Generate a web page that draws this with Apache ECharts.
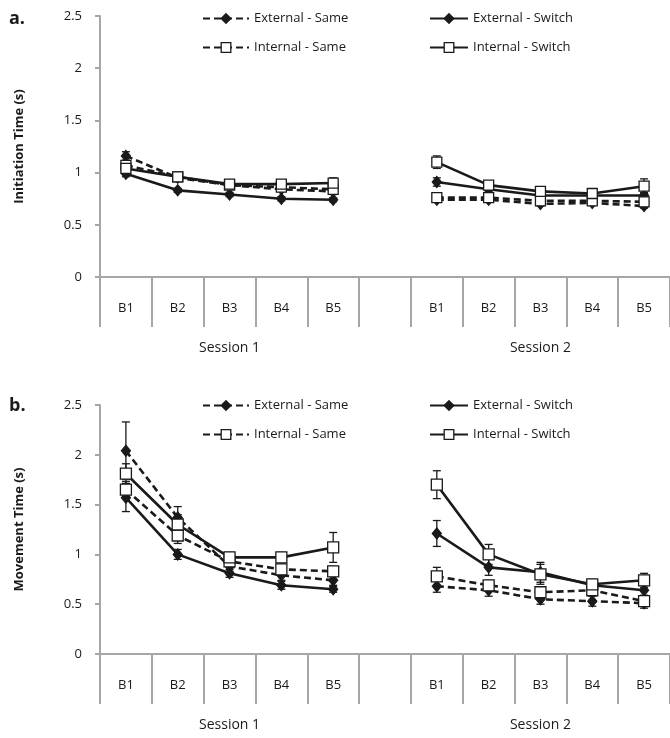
<!DOCTYPE html>
<html>
<head>
<meta charset="utf-8">
<script src="https://cdn.jsdelivr.net/npm/echarts@6/dist/echarts.min.js"></script>
<style>
html,body{margin:0;padding:0;background:#fff;}
#main{width:670px;height:738px;}
</style>
</head>
<body>
<div id="main"></div>
<script>
// categories (index 5 is the empty gap between the two sessions)
var blocks = ['B1','B2','B3','B4','B5','','B1','B2','B3','B4','B5'];
var sessions = ['','','Session 1','','','','','','Session 2','',''];
var yTicks = [0, 0.5, 1, 1.5, 2, 2.5];
var seriesNames = ['External - Same','External - Switch','Internal - Same','Internal - Switch'];

// a. initiation time (s)
var initExtSame   = [1.16,0.95,0.88,0.84,0.82,null,0.74,0.74,0.70,0.71,0.68];
var initExtSwitch = [0.99,0.83,0.79,0.75,0.74,null,0.91,0.84,0.78,0.78,0.78];
var initIntSame   = [1.07,0.96,0.88,0.86,0.84,null,0.76,0.76,0.73,0.73,0.72];
var initIntSwitch = [1.04,0.96,0.89,0.89,0.90,null,1.10,0.88,0.82,0.80,0.87];
var initExtSameErr   = [0.04,0.02,0.02,0.02,0.03,null,0.02,0.02,0.02,0.02,0.02];
var initExtSwitchErr = [0.03,0.02,0.02,0.02,0.02,null,0.04,0.02,0.02,0.02,0.03];
var initIntSameErr   = [0.04,0.03,0.03,0.03,0.04,null,0.03,0.02,0.02,0.02,0.03];
var initIntSwitchErr = [0.03,0.03,0.03,0.03,0.05,null,0.06,0.03,0.03,0.03,0.07];

// b. movement time (s)
var moveExtSame   = [2.04,1.37,0.88,0.79,0.74,null,0.68,0.64,0.55,0.53,0.51];
var moveExtSwitch = [1.57,1.00,0.81,0.69,0.65,null,1.21,0.87,0.82,0.69,0.64];
var moveIntSame   = [1.65,1.19,0.93,0.85,0.83,null,0.78,0.69,0.62,0.64,0.53];
var moveIntSwitch = [1.81,1.30,0.97,0.97,1.07,null,1.70,1.00,0.80,0.70,0.74];
var moveExtSameErr   = [0.29,0.11,0.05,0.05,0.05,null,0.06,0.06,0.05,0.05,0.05];
var moveExtSwitchErr = [0.14,0.05,0.04,0.04,0.03,null,0.13,0.08,0.10,0.04,0.05];
var moveIntSameErr   = [0.08,0.08,0.05,0.05,0.05,null,0.09,0.05,0.05,0.05,0.05];
var moveIntSwitchErr = [0.10,0.10,0.05,0.05,0.15,null,0.14,0.10,0.10,0.05,0.07];

var axisGray = '#a6a6a6';
var txtFont = 'Open Sans';

var chart = echarts.init(document.getElementById('main'));

// error bar with caps
function renderErr(params, api){
	var x = api.value(0);
	var lo = api.coord([x, api.value(1)]);
	var hi = api.coord([x, api.value(2)]);
	var w = 4;
	var st = {stroke:'#1a1a1a', lineWidth:1.3};
	return {type:'group', children:[
		{type:'line', shape:{x1:lo[0],y1:lo[1],x2:hi[0],y2:hi[1]}, style:st},
		{type:'line', shape:{x1:lo[0]-w,y1:lo[1],x2:lo[0]+w,y2:lo[1]}, style:st},
		{type:'line', shape:{x1:hi[0]-w,y1:hi[1],x2:hi[0]+w,y2:hi[1]}, style:st}
	]};
}

function errData(vals, errs){
	var out = [];
	for(var i=0;i<vals.length;i++){
		if(vals[i]==null) continue;
		out.push([i, vals[i]-errs[i], vals[i]+errs[i]]);
	}
	return out;
}

// style of the 4 conditions
var styles = [
	{dash:[7,4], symbol:'diamond', size:[9,11], fill:'#1a1a1a'},
	{dash:'solid', symbol:'diamond', size:[9,11], fill:'#1a1a1a'},
	{dash:[7,4], symbol:'rect', size:10, fill:'#ffffff'},
	{dash:'solid', symbol:'rect', size:10, fill:'#ffffff'}
];

function makeSeries(gi, vals, errs, sqSize){
	var out = [];
	for(var k=0;k<4;k++){
		out.push({
			type:'custom', name:seriesNames[k]+' err', xAxisIndex:gi*2, yAxisIndex:gi,
			renderItem:renderErr, data:errData(vals[k], errs[k]), z:1, silent:true
		});
	}
	for(var k=0;k<4;k++){
		var s = styles[k];
		out.push({
			type:'line', name:seriesNames[k], xAxisIndex:gi*2, yAxisIndex:gi,
			data:vals[k], connectNulls:false, z:3,
			symbol:s.symbol, symbolSize:(s.symbol=='rect'?sqSize:s.size), showAllSymbol:true,
			lineStyle:{color:'#1a1a1a', width:2.6, type:s.dash},
			itemStyle:{color:s.fill, borderColor:'#1a1a1a', borderWidth:1.3},
			emphasis:{disabled:true}, animation:false
		});
	}
	return out;
}

function xAxes(gi){
	return [{
		type:'category', gridIndex:gi, data:blocks, boundaryGap:true,
		axisLine:{show:true, lineStyle:{color:axisGray, width:2}},
		axisTick:{show:true, length:50, interval:0, lineStyle:{color:axisGray, width:2}},
		axisLabel:{interval:0, margin:25, fontSize:13, color:'#1a1a1a', fontFamily:txtFont}
	},{
		type:'category', gridIndex:gi, data:sessions, boundaryGap:true, position:'bottom',
		axisLine:{show:false}, axisTick:{show:false},
		axisLabel:{interval:0, margin:64, fontSize:14, color:'#1a1a1a', fontFamily:txtFont}
	}];
}

function yAxis(gi, name){
	return {
		type:'value', gridIndex:gi, min:yTicks[0], max:yTicks[yTicks.length-1], interval:0.5,
		splitLine:{show:false},
		axisLine:{show:true, lineStyle:{color:axisGray, width:2}},
		axisTick:{show:true, length:5, lineStyle:{color:axisGray, width:2}},
		axisLabel:{margin:18, fontSize:13, color:'#1a1a1a', fontFamily:txtFont},
		name:name, nameLocation:'middle', nameGap:74,
		nameTextStyle:{fontSize:13, fontWeight:'bold', color:'#1a1a1a', fontFamily:txtFont}
	};
}

function legends(top){
	var base = {
		orient:'vertical', itemHeight:12, itemGap:16, top:top,
		textStyle:{fontSize:13, color:'#1a1a1a', fontFamily:txtFont}, itemStyle:{borderWidth:1.3}
	};
	return [
		Object.assign({left:197, itemWidth:46, data:[seriesNames[0], seriesNames[2]]}, base),
		Object.assign({left:424, itemWidth:38, data:[seriesNames[1], seriesNames[3]]}, base)
	];
}

var series = [].concat(
	makeSeries(0, [initExtSame, initExtSwitch, initIntSame, initIntSwitch],
		[initExtSameErr, initExtSwitchErr, initIntSameErr, initIntSwitchErr], 10),
	makeSeries(1, [moveExtSame, moveExtSwitch, moveIntSame, moveIntSwitch],
		[moveExtSameErr, moveExtSwitchErr, moveIntSameErr, moveIntSwitchErr], 11)
);

var option = {
	animation:false,
	backgroundColor:'#ffffff',
	textStyle:{fontFamily:txtFont},
	grid:[
		{left:100, right:0, top:16, height:261},
		{left:100, right:0, top:405, height:249}
	],
	xAxis:[].concat(xAxes(0), xAxes(1)),
	yAxis:[yAxis(0,'Initiation Time (s)'), yAxis(1,'Movement Time (s)')],
	legend:[].concat(legends(7), legends(394)),
	graphic:[
		{type:'text', left:9, top:10, style:{text:'a.', font:'bold 18px "Open Sans"', fill:'#1a1a1a'}},
		{type:'text', left:9, top:397, style:{text:'b.', font:'bold 18px "Open Sans"', fill:'#1a1a1a'}}
	],
	series:series
};
chart.setOption(option);
</script>
</body>
</html>
